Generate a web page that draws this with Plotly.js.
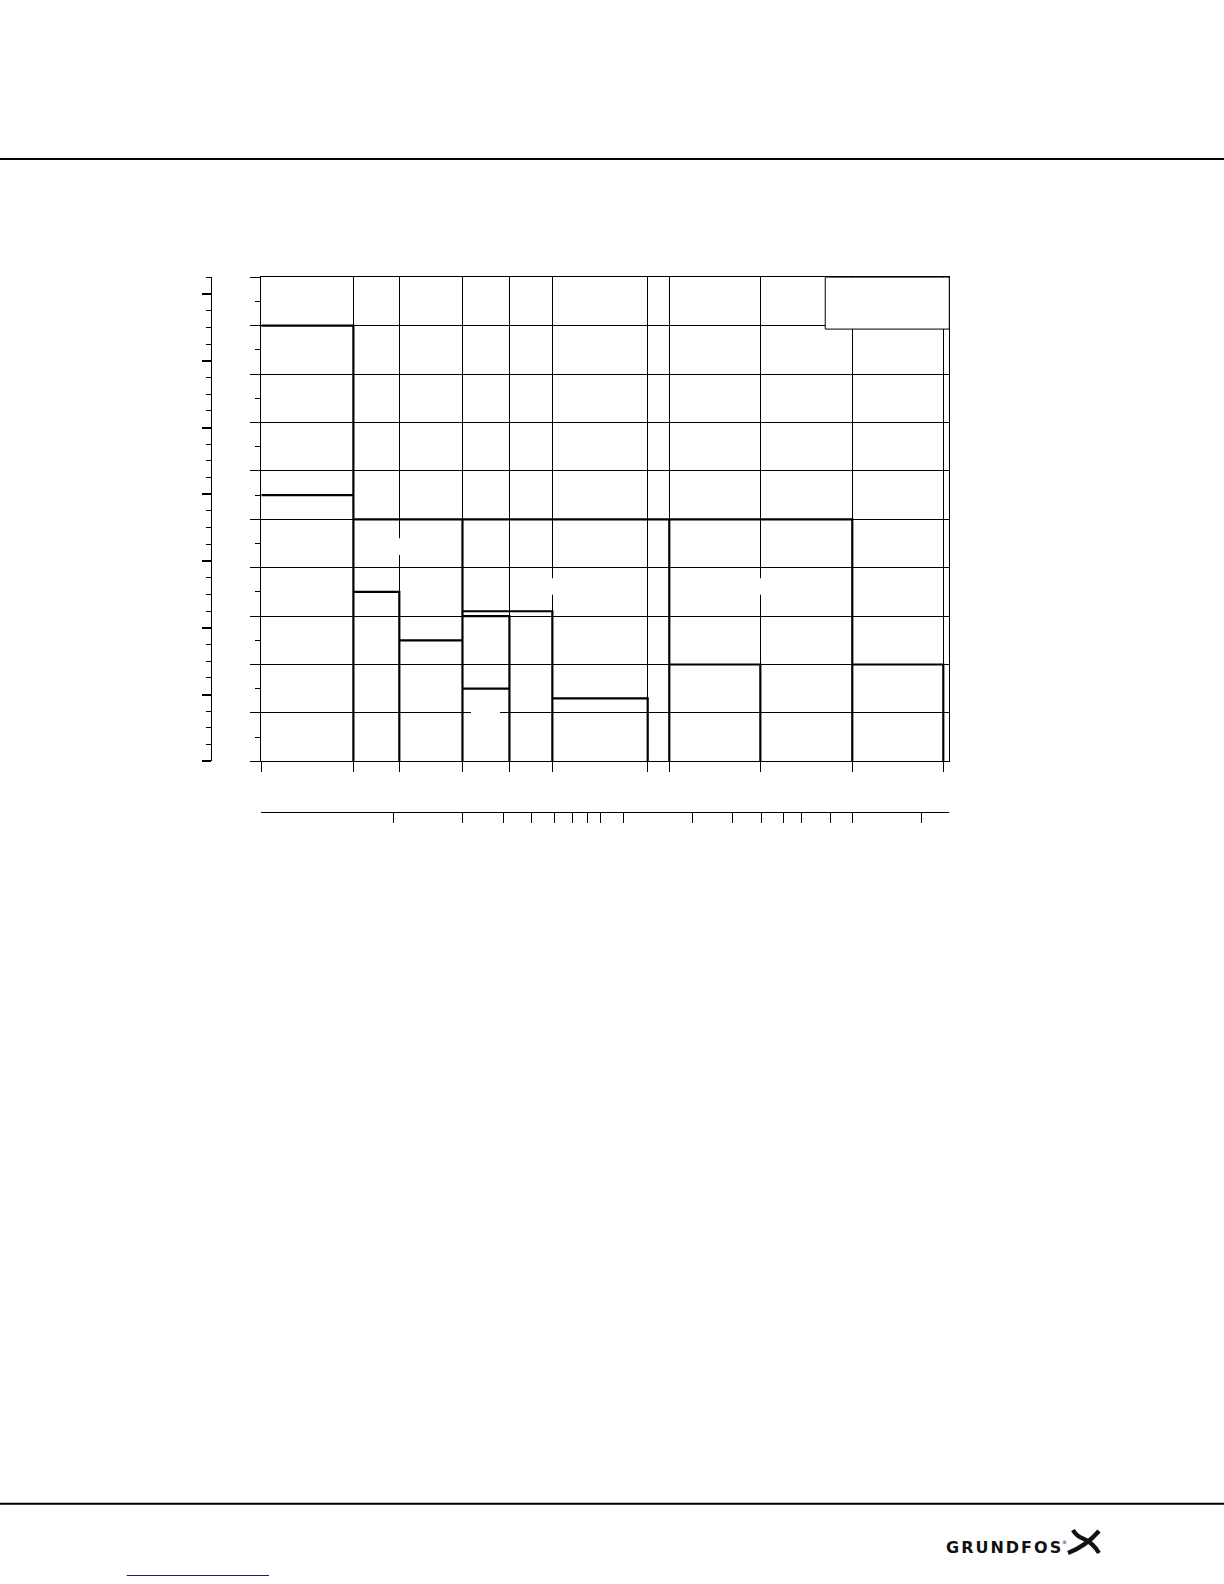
<!DOCTYPE html>
<html>
<head>
<meta charset="utf-8">
<script src="https://cdn.plot.ly/plotly-3.0.1.min.js"></script>
<style>
html,body{margin:0;padding:0;background:#fff;}
#chart{width:1224px;height:1584px;}
</style>
</head>
<body>
<div id="chart"></div>
<script>
// ---------------- DATA ----------------
// Flow (log axis) boundaries of the grid sections
const sectionBounds = [0.2636, 0.665, 1.055, 1.99, 3.19, 4.91, 12.8, 15.9, 39.7, 100, 249.6];
const flowMin = 0.2636;
const flowMax = 265.1;
// Secondary flow axis tick values (log)
const flowTicks = [1, 2, 3, 4, 5, 6, 7, 8, 10, 20, 30, 40, 50, 60, 80, 100, 200];
// Head axis
const headTicks = [0, 10, 20, 30, 40, 50, 60, 70, 80, 90, 100];
const headMax = 100;
// Secondary head axis
const head2Ticks = [0, 1, 2, 3, 4, 5, 6, 7];
const head2Max = 7.25;

// Performance range outlines (step curves)
const c1x = [0.2636, 0.665, 0.665],  c1y = [90, 90, 0];
const c2x = [0.2636, 0.665],         c2y = [55, 55];
const c3x = [0.665, 100, 100],       c3y = [50, 50, 0];
const c4x = [1.99, 1.99],            c4y = [50, 0];
const c5x = [15.9, 15.9],            c5y = [50, 0];
const c6x = [0.665, 1.055, 1.055],   c6y = [35, 35, 0];
const c7x = [1.055, 1.99],           c7y = [25, 25];
const c8x = [1.99, 4.91, 4.91],      c8y = [31, 31, 0];
const c9x = [1.99, 3.19, 3.19],      c9y = [30, 30, 0];
const c10x = [1.99, 3.19],           c10y = [15, 15];
const c11x = [4.91, 12.8, 12.8],     c11y = [13, 13, 0];
const c12x = [15.9, 39.7, 39.7],     c12y = [20, 20, 0];
const c13x = [100, 249.6, 249.6],    c13y = [20, 20, 0];

// Legend box corner (flow, head)
const legendX0 = 76.2, legendY0 = 89.3;

// ---------------- BUILD ----------------
const W = 1224, H = 1584;
const px = x => x / W;
const py = y => 1 - y / H;

const curves = [
  [c1x, c1y], [c2x, c2y], [c3x, c3y], [c4x, c4y], [c5x, c5y], [c6x, c6y], [c7x, c7y],
  [c8x, c8y], [c9x, c9y], [c10x, c10y], [c11x, c11y], [c12x, c12y], [c13x, c13y]
];
const traces = curves.map(([x, y]) => ({
  type: 'scatter', mode: 'lines', x: x, y: y,
  line: {color: '#000', width: 2.2, shape: 'linear'},
  hoverinfo: 'skip', showlegend: false, xaxis: 'x', yaxis: 'y'
}));
// carrier traces (no visible marks) so that the secondary axes are drawn
traces.push({type: 'scatter', mode: 'lines', x: flowTicks, y: flowTicks.map(() => null),
  xaxis: 'x2', yaxis: 'y', hoverinfo: 'skip', showlegend: false, line: {width: 0}});
traces.push({type: 'scatter', mode: 'lines', x: head2Ticks.map(() => null), y: head2Ticks,
  xaxis: 'x', yaxis: 'y2', hoverinfo: 'skip', showlegend: false, line: {width: 0}});

const logRange = [Math.log10(flowMin), Math.log10(flowMax)];

function P(x, y) { return px(x).toFixed(5) + ',' + py(y).toFixed(5); }

const shapes = [
  // page rules
  {type: 'line', xref: 'paper', yref: 'paper', x0: 0, x1: 1, y0: py(159), y1: py(159), line: {color: '#000', width: 2}},
  {type: 'line', xref: 'paper', yref: 'paper', x0: 0, x1: 1, y0: py(1503.7), y1: py(1503.7), line: {color: '#000', width: 2}},
  {type: 'line', xref: 'paper', yref: 'paper', x0: px(126.7), x1: px(269), y0: py(1575.5), y1: py(1575.5), line: {color: '#1a1a90', width: 1.2}},
  // legend box
  {type: 'rect', xref: 'x', yref: 'y', x0: legendX0, x1: flowMax, y0: legendY0, y1: headMax,
   fillcolor: '#fff', line: {color: '#000', width: 1}, layer: 'above'},
  // label masks (blank label backgrounds)
  {type: 'rect', xref: 'x', yref: 'y', x0: 2.168, x1: 2.901, y0: 9, y1: 11, fillcolor: '#fff', line: {width: 0}, layer: 'above'},
  {type: 'rect', xref: 'x', yref: 'y', x0: 1.03, x1: 1.08, y0: 42.6, y1: 46.1, fillcolor: '#fff', line: {width: 0}, layer: 'above'},
  {type: 'rect', xref: 'x', yref: 'y', x0: 4.75, x1: 5.07, y0: 34.4, y1: 37.8, fillcolor: '#fff', line: {width: 0}, layer: 'above'},
  {type: 'rect', xref: 'x', yref: 'y', x0: 38.5, x1: 41.0, y0: 34.4, y1: 37.8, fillcolor: '#fff', line: {width: 0}, layer: 'above'},
  // logo symbol
  {type: 'path', xref: 'paper', yref: 'paper',
   path: 'M' + P(1068, 1553) + ' Q' + P(1086, 1546) + ' ' + P(1099, 1531),
   line: {color: '#111', width: 4.2}},
  {type: 'path', xref: 'paper', yref: 'paper',
   path: 'M' + P(1073, 1530) + ' Q' + P(1076, 1536) + ' ' + P(1084, 1539) + ' Q' + P(1093, 1543) + ' ' + P(1099, 1553),
   line: {color: '#111', width: 4.2}}
];

const annotations = [
  {xref: 'paper', yref: 'paper', x: px(944), y: py(1547.5), xanchor: 'left', yanchor: 'middle',
   text: '<span style="letter-spacing:2px">GRUNDFOS</span>', showarrow: false,
   font: {family: 'DejaVu Sans', size: 16, color: '#111', weight: 'bold'}},
  {xref: 'paper', yref: 'paper', x: px(1060), y: py(1542), xanchor: 'left', yanchor: 'middle',
   text: '®', showarrow: false, font: {family: 'DejaVu Sans', size: 5, color: '#111'}}
];

const layout = {
  width: W, height: H,
  margin: {l: 0, r: 0, t: 0, b: 0, pad: 0},
  paper_bgcolor: '#fff', plot_bgcolor: '#fff',
  showlegend: false,
  font: {family: 'Liberation Sans, Arial, sans-serif', color: '#000'},
  xaxis: {
    type: 'log', domain: [px(261.3), px(949.3)], range: logRange,
    tickmode: 'array', tickvals: sectionBounds, showticklabels: false,
    ticks: 'outside', ticklen: 10, tickwidth: 1, tickcolor: '#000',
    showgrid: true, gridcolor: '#000', gridwidth: 1,
    showline: true, linecolor: '#000', linewidth: 1, mirror: true, zeroline: false
  },
  yaxis: {
    domain: [py(761.3), py(277.3)], range: [0, headMax],
    tickmode: 'array', tickvals: headTicks, showticklabels: false,
    ticks: 'outside', ticklen: 10, tickwidth: 1, tickcolor: '#000',
    minor: {dtick: 5, tick0: 0, ticks: 'outside', ticklen: 5, tickwidth: 1, tickcolor: '#000', showgrid: false},
    showgrid: true, gridcolor: '#000', gridwidth: 1,
    showline: true, linecolor: '#000', linewidth: 1, mirror: true, zeroline: false
  },
  xaxis2: {
    type: 'log', overlaying: 'x', anchor: 'free', position: py(812.3), side: 'bottom',
    range: logRange, tickmode: 'array', tickvals: flowTicks, showticklabels: false,
    ticks: 'outside', ticklen: 10, tickwidth: 1, tickcolor: '#000',
    showgrid: false, showline: true, linecolor: '#000', linewidth: 1, zeroline: false
  },
  yaxis2: {
    overlaying: 'y', anchor: 'free', position: px(210.7), side: 'left',
    range: [0, head2Max], tickmode: 'array', tickvals: head2Ticks, showticklabels: false,
    ticks: 'outside', ticklen: 9, tickwidth: 2, tickcolor: '#000',
    minor: {dtick: 0.25, tick0: 0, ticks: 'outside', ticklen: 5, tickwidth: 1, tickcolor: '#000', showgrid: false},
    showgrid: false, showline: true, linecolor: '#000', linewidth: 1, zeroline: false
  },
  shapes: shapes,
  annotations: annotations
};

Plotly.newPlot('chart', traces, layout, {staticPlot: true, displayModeBar: false});
</script>
</body>
</html>
